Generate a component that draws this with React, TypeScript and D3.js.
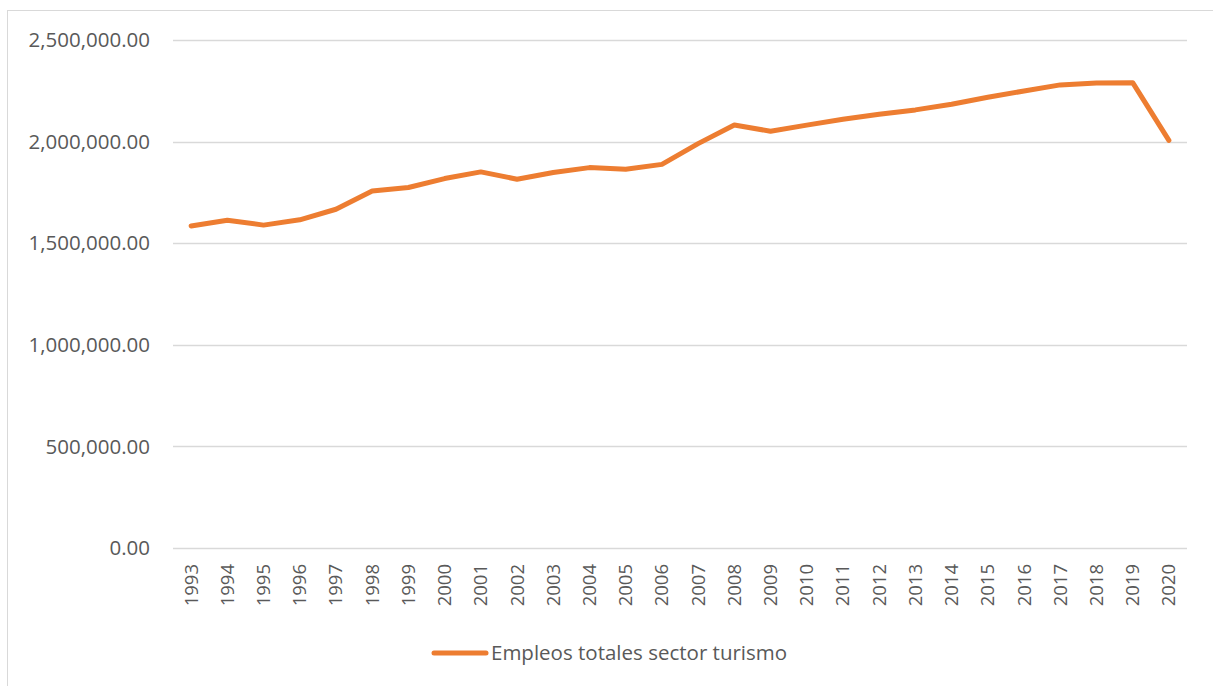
import * as d3 from 'd3'
import { useEffect, useRef } from 'react'

const years = [
	'1993', '1994', '1995', '1996', '1997', '1998', '1999', '2000', '2001', '2002',
	'2003', '2004', '2005', '2006', '2007', '2008', '2009', '2010', '2011', '2012',
	'2013', '2014', '2015', '2016', '2017', '2018', '2019', '2020',
]
const empleos = [
	1585000, 1613000, 1589000, 1615000, 1667000, 1757000, 1774000, 1818000, 1851000, 1815000,
	1848000, 1872000, 1864000, 1888000, 1990000, 2082000, 2051000, 2081000, 2110000, 2135000,
	2156000, 2184000, 2218000, 2249000, 2279000, 2288000, 2290000, 2006000,
]
const yTicks = [0, 500000, 1000000, 1500000, 2000000, 2500000]
const seriesName = 'Empleos totales sector turismo'

const App = () => {
	const svgRef = useRef<SVGSVGElement>(null)

	const width = 1213
	const height = 686
	const marginTop = 40
	const marginLeft = 173
	const marginRight = 26
	const plotBottom = 548
	const font = '"Open Sans", sans-serif'
	const textColor = '#595959'
	const orange = '#ED7D31'

	useEffect(() => {
		d3.select(svgRef.current).selectAll('*').remove()
		const svg = d3.select(svgRef.current)

		// borde del área del gráfico
		svg.append('rect')
			.attr('x', 7.5).attr('y', 10.5)
			.attr('width', width).attr('height', height)
			.attr('fill', 'none').attr('stroke', '#d9d9d9').attr('stroke-width', 1)

		const x = d3.scaleBand().domain(years).range([marginLeft, width - marginRight])
		const y = d3.scaleLinear().domain([0, 2500000]).range([plotBottom, marginTop])

		// rejilla y etiquetas Y
		const fmt = d3.format(',.2f')
		svg.append('g')
			.selectAll('line')
			.data(yTicks)
			.join('line')
			.attr('x1', marginLeft).attr('x2', width - marginRight)
			.attr('y1', (d) => Math.round(y(d)) + 0.5).attr('y2', (d) => Math.round(y(d)) + 0.5)
			.attr('stroke', '#d9d9d9').attr('stroke-width', 1.3)

		svg.append('g')
			.selectAll('text')
			.data(yTicks)
			.join('text')
			.attr('x', 150)
			.attr('y', (d) => y(d))
			.attr('dy', '0.35em')
			.attr('text-anchor', 'end')
			.attr('font-family', font)
			.attr('font-size', 20.5)
			.attr('fill', textColor)
			.text((d) => fmt(d))

		// etiquetas X rotadas
		svg.append('g')
			.selectAll('text')
			.data(years)
			.join('text')
			.attr('transform', (d) => `translate(${x(d)! + x.bandwidth() / 2},${plotBottom + 16}) rotate(-90)`)
			.attr('dy', '0.35em')
			.attr('text-anchor', 'end')
			.attr('font-family', font)
			.attr('font-size', 18.5)
			.attr('fill', textColor)
			.text((d) => d)

		// línea
		const line = d3.line<number>()
			.x((_, i) => x(years[i])! + x.bandwidth() / 2)
			.y((d) => y(d))
		svg.append('path')
			.datum(empleos)
			.attr('d', line)
			.attr('fill', 'none')
			.attr('stroke', orange)
			.attr('stroke-width', 5)
			.attr('stroke-linejoin', 'round')
			.attr('stroke-linecap', 'round')

		// leyenda
		svg.append('line')
			.attr('x1', 434).attr('x2', 486)
			.attr('y1', 653).attr('y2', 653)
			.attr('stroke', orange).attr('stroke-width', 5).attr('stroke-linecap', 'round')
		svg.append('text')
			.attr('x', 491).attr('y', 653)
			.attr('dy', '0.35em')
			.attr('font-family', font)
			.attr('font-size', 20.5)
			.attr('fill', textColor)
			.text(seriesName)
	}, [])

	return (
		<svg
			ref={svgRef}
			width={width}
			height={height}
			style={{ position: 'absolute', left: 0, top: 0, background: '#fff' }}
		></svg>
	)
}

export default App
